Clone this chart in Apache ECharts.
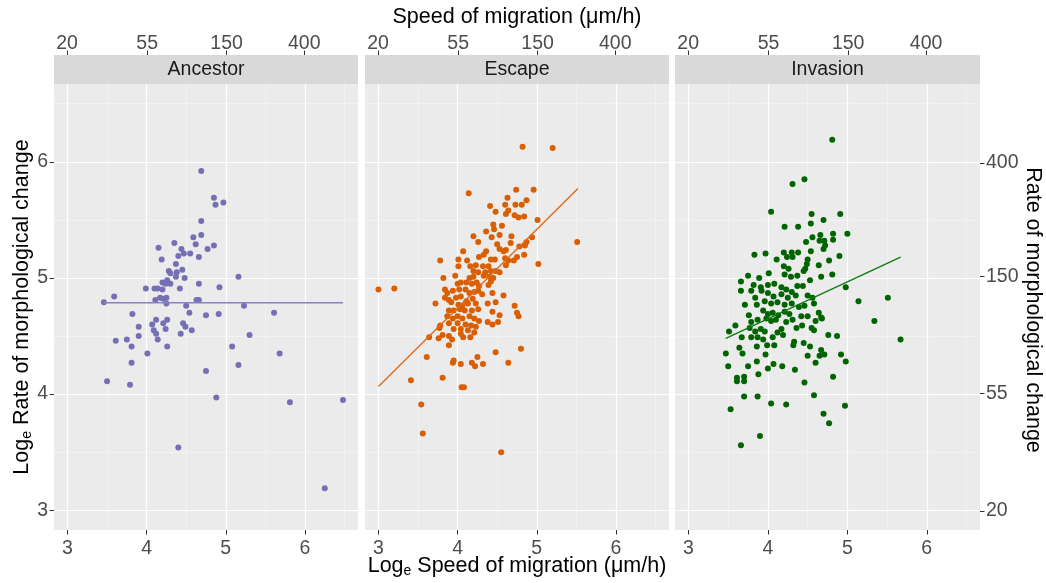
<!DOCTYPE html>
<html>
<head>
<meta charset="utf-8">
<script src="https://cdn.jsdelivr.net/npm/echarts@6/dist/echarts.min.js"></script>
<style>html,body{margin:0;padding:0;background:#fff}#c{width:1046px;height:583px}</style>
</head>
<body>
<div id="c"></div>
<script>
// ---- data ----
const panels = ['Ancestor', 'Escape', 'Invasion'];
const bottomTicks = [3, 4, 5, 6];
const leftTicks = [3, 4, 5, 6];
const minorTicks = [3.5, 4.5, 5.5, 6.5];
const topTickLabels = [20, 55, 150, 400];
const rightTickLabels = [20, 55, 150, 400];

const ancestorPoints = [
[4.69,5.92],[4.85,5.69],[4.87,5.63],[4.97,5.65],[4.69,5.49],[4.69,5.37],[4.59,5.35],[4.62,5.29],[4.85,5.28],[4.77,5.25],
[4.35,5.30],[4.44,5.25],[4.15,5.26],[4.40,5.19],[4.47,5.21],[4.55,5.21],[4.66,5.18],[4.19,5.16],[4.37,5.12],[4.28,5.06],
[4.30,5.04],[4.38,5.05],[4.45,5.07],[4.37,5.01],[4.48,5.00],[5.16,5.01],[4.20,4.96],[4.26,4.98],[4.30,4.95],[4.24,4.95],
[4.66,4.95],[3.99,4.91],[4.10,4.91],[4.14,4.91],[4.20,4.90],[4.42,4.91],[4.92,4.92],[3.59,4.84],[3.46,4.79],[4.11,4.81],
[4.17,4.83],[4.21,4.82],[4.25,4.83],[4.25,4.78],[4.50,4.76],[4.63,4.81],[4.66,4.81],[5.23,4.76],[3.82,4.69],[4.54,4.70],
[4.75,4.68],[4.91,4.69],[5.61,4.70],[4.12,4.64],[4.26,4.64],[4.07,4.60],[4.21,4.61],[4.46,4.61],[3.90,4.58],[4.09,4.55],
[4.12,4.52],[4.24,4.56],[4.49,4.58],[4.57,4.55],[4.43,4.52],[3.90,4.50],[3.61,4.46],[3.75,4.47],[4.14,4.47],[3.81,4.41],
[4.26,4.41],[5.30,4.51],[5.08,4.41],[4.01,4.35],[5.68,4.35],[3.81,4.27],[5.16,4.25],[4.75,4.20],[3.50,4.11],[3.79,4.08],
[4.88,3.97],[5.81,3.93],[6.48,3.95],[4.40,3.54],[6.25,3.19]
];
const escapePoints = [
[4.82,6.13],[5.20,6.12],[4.14,5.73],[4.74,5.76],[4.96,5.76],[4.63,5.69],[4.60,5.63],[4.73,5.63],[4.81,5.63],[4.87,5.67],
[4.41,5.62],[4.48,5.57],[4.61,5.55],[4.64,5.58],[4.72,5.54],[4.77,5.52],[4.84,5.53],[5.01,5.50],[5.51,5.31],[4.45,5.46],
[4.56,5.45],[4.46,5.42],[4.36,5.40],[4.53,5.37],[4.20,5.36],[4.68,5.36],[4.43,5.35],[4.26,5.31],[4.67,5.30],[4.50,5.29],
[4.53,5.25],[4.58,5.23],[4.61,5.24],[4.36,5.23],[4.07,5.23],[4.87,5.31],[4.94,5.35],[4.78,5.27],[4.85,5.28],[4.84,5.20],
[4.33,5.20],[4.27,5.18],[3.78,5.15],[4.01,5.16],[4.42,5.16],[4.47,5.16],[4.60,5.17],[4.64,5.15],[4.71,5.15],[4.75,5.18],
[5.02,5.12],[4.12,5.15],[4.16,5.10],[4.01,5.10],[4.23,5.11],[4.32,5.10],[4.39,5.10],[4.61,5.11],[3.97,5.02],[3.82,5.00],
[4.20,5.06],[4.26,5.05],[4.35,5.05],[4.42,5.06],[4.48,5.06],[4.53,5.05],[4.15,5.00],[4.20,5.01],[4.33,5.02],[4.40,5.01],
[4.45,5.00],[3.00,4.90],[3.20,4.91],[4.00,4.95],[4.04,4.96],[4.11,4.96],[4.18,4.95],[4.24,4.96],[4.27,4.93],[4.39,4.94],
[4.42,4.97],[3.84,4.90],[3.87,4.87],[3.94,4.89],[4.02,4.90],[4.10,4.90],[4.15,4.87],[4.21,4.88],[4.26,4.89],[4.31,4.86],
[4.44,4.87],[4.58,4.85],[3.84,4.83],[3.89,4.81],[3.98,4.83],[4.04,4.84],[4.11,4.80],[4.19,4.82],[3.72,4.78],[3.92,4.79],
[4.01,4.77],[4.06,4.76],[4.13,4.78],[4.23,4.78],[4.38,4.78],[4.48,4.79],[4.72,4.76],[3.89,4.72],[3.95,4.72],[4.03,4.73],
[4.09,4.72],[4.18,4.72],[4.26,4.73],[4.44,4.71],[4.53,4.68],[4.75,4.70],[4.77,4.67],[3.87,4.67],[3.94,4.65],[4.00,4.67],
[4.06,4.65],[4.15,4.67],[4.21,4.65],[4.27,4.63],[4.38,4.62],[4.44,4.60],[4.51,4.62],[3.78,4.59],[3.89,4.61],[4.00,4.61],
[4.10,4.60],[4.17,4.59],[4.23,4.58],[3.77,4.57],[3.95,4.56],[4.04,4.56],[4.13,4.55],[4.21,4.53],[4.04,4.52],[4.07,4.49],
[3.81,4.51],[3.89,4.50],[3.64,4.49],[3.76,4.48],[3.93,4.47],[4.16,4.49],[3.89,4.42],[4.80,4.39],[3.61,4.32],[4.48,4.36],
[3.95,4.29],[3.94,4.27],[4.04,4.26],[4.18,4.27],[4.25,4.32],[4.22,4.24],[4.32,4.26],[4.64,4.27],[3.41,4.12],[3.81,4.14],
[4.05,4.06],[4.08,4.06],[3.54,3.91],[3.56,3.66],[4.55,3.50]
];
const invasionPoints = [
[4.81,6.19],[4.46,5.85],[4.31,5.81],[4.04,5.57],[4.55,5.55],[4.70,5.50],[4.91,5.55],[4.21,5.44],[4.38,5.44],[4.54,5.47],
[5.00,5.38],[4.56,5.35],[4.66,5.37],[4.82,5.38],[4.71,5.32],[4.48,5.31],[4.82,5.33],[4.65,5.32],[4.72,5.28],[3.83,5.20],
[3.97,5.21],[4.20,5.22],[4.30,5.22],[4.38,5.22],[4.54,5.23],[4.70,5.25],[4.90,5.19],[4.11,5.16],[4.24,5.18],[4.31,5.18],
[4.50,5.16],[4.77,5.15],[4.49,5.12],[4.64,5.11],[4.20,5.10],[4.26,5.08],[4.47,5.08],[4.01,5.04],[3.75,5.02],[3.89,5.00],
[4.21,5.03],[4.29,5.01],[4.37,5.02],[4.45,5.06],[4.53,4.98],[4.67,5.01],[4.81,5.03],[4.98,4.92],[3.66,4.97],[3.82,4.94],
[3.91,4.92],[4.00,4.94],[4.08,4.95],[4.17,4.92],[4.23,4.90],[4.30,4.88],[4.37,4.93],[4.44,4.93],[3.66,4.89],[3.79,4.89],
[3.92,4.89],[4.00,4.87],[4.07,4.84],[4.17,4.86],[4.25,4.83],[4.35,4.85],[4.50,4.85],[4.56,4.83],[4.58,4.78],[5.14,4.80],
[5.51,4.83],[3.71,4.77],[3.84,4.83],[3.96,4.80],[4.04,4.78],[4.12,4.79],[4.21,4.77],[4.30,4.78],[4.39,4.75],[4.46,4.76],
[3.86,4.77],[3.94,4.72],[4.00,4.69],[4.06,4.70],[4.13,4.68],[4.21,4.71],[4.27,4.69],[4.42,4.67],[4.50,4.67],[4.64,4.70],
[4.67,4.66],[3.76,4.68],[3.79,4.62],[3.87,4.64],[3.98,4.65],[4.04,4.63],[4.10,4.64],[4.23,4.62],[4.31,4.64],[4.36,4.57],
[4.43,4.59],[4.60,4.63],[4.68,4.65],[5.34,4.63],[3.51,4.54],[3.59,4.59],[3.77,4.57],[3.84,4.54],[3.91,4.56],[3.96,4.54],
[4.17,4.56],[4.55,4.57],[4.58,4.55],[3.67,4.49],[3.79,4.49],[3.87,4.49],[3.94,4.47],[4.06,4.49],[4.12,4.53],[4.19,4.51],
[4.76,4.51],[4.87,4.50],[5.67,4.47],[3.47,4.35],[3.64,4.40],[3.68,4.35],[3.86,4.41],[3.99,4.42],[4.08,4.42],[4.33,4.45],
[4.32,4.42],[4.45,4.44],[4.53,4.41],[4.50,4.33],[4.67,4.38],[4.65,4.33],[4.71,4.34],[4.60,4.27],[4.92,4.34],[4.98,4.28],
[3.50,4.24],[3.75,4.24],[3.86,4.28],[3.97,4.34],[4.00,4.22],[4.07,4.26],[4.18,4.24],[4.34,4.21],[3.88,4.17],[3.61,4.14],
[3.70,4.15],[3.61,4.11],[3.70,4.11],[4.82,4.15],[4.46,4.10],[3.70,3.98],[3.87,3.98],[4.58,3.99],[4.04,3.92],[4.23,3.91],
[4.97,3.90],[3.53,3.87],[4.70,3.83],[4.77,3.75],[3.90,3.64],[3.66,3.56]
];
// fitted lines (start and end points)
const ancestorFit = [[3.46, 4.786], [6.48, 4.786]];
const escapeFit = [[3.00, 4.065], [5.52, 5.77]];
const invasionFit = [[3.47, 4.48], [5.67, 5.18]];

const axisMin = 2.83, axisMax = 6.67;
const colors = ['#7570b3', '#d95f02', '#006400'];
const lineColors = ['#8a80c6', '#e06a1a', '#137a13'];

// ---- chart ----
const FONT = 'Liberation Sans, Arial, sans-serif';
const chart = echarts.init(document.getElementById('c'), null, {renderer: 'canvas'});
const gridLefts = [54, 365, 675];
const gridW = [304, 304, 305];
const gridTop = 84, gridH = 446;
const pointSets = [ancestorPoints, escapePoints, invasionPoints];
const fits = [ancestorFit, escapeFit, invasionFit];
const logTop = topTickLabels.map(v => Math.log(v));
const logRight = rightTickLabels.map(v => Math.log(v));

const grids = [], xAxes = [], yAxes = [], series = [], graphics = [];
const labelStyle = {color: '#4d4d4d', fontSize: 19.5, fontFamily: FONT};
const tickStyle = {show: true, length: 4.5, lineStyle: {color: '#333333', width: 1}};

for (let i = 0; i < 3; i++) {
  grids.push({left: gridLefts[i], top: gridTop, width: gridW[i], height: gridH,
    show: true, backgroundColor: '#ebebeb', borderWidth: 0});
}
for (let i = 0; i < 3; i++) {
  xAxes.push({type: 'value', gridIndex: i, min: axisMin, max: axisMax, position: 'bottom',
    axisLine: {show: false}, splitLine: {show: false},
    axisTick: Object.assign({customValues: bottomTicks}, tickStyle),
    axisLabel: Object.assign({customValues: bottomTicks, margin: 9, formatter: v => String(v)}, labelStyle)});
}
for (let i = 0; i < 3; i++) {
  xAxes.push({type: 'value', gridIndex: i, min: axisMin, max: axisMax, position: 'top', offset: 29,
    axisLine: {show: false}, splitLine: {show: false},
    axisTick: Object.assign({customValues: logTop}, tickStyle),
    axisLabel: Object.assign({customValues: logTop, margin: 1, formatter: v => String(Math.round(Math.exp(v)))}, labelStyle)});
}
for (let i = 0; i < 3; i++) {
  yAxes.push({type: 'value', gridIndex: i, min: axisMin, max: axisMax, position: 'left',
    axisLine: {show: false}, splitLine: {show: false},
    axisTick: Object.assign({customValues: leftTicks}, tickStyle, {show: i === 0}),
    axisLabel: Object.assign({customValues: leftTicks, margin: 6, show: i === 0, formatter: v => String(v)}, labelStyle)});
}
yAxes.push({type: 'value', gridIndex: 2, min: axisMin, max: axisMax, position: 'right',
  axisLine: {show: false}, splitLine: {show: false},
  axisTick: Object.assign({customValues: logRight}, tickStyle),
  axisLabel: Object.assign({customValues: logRight, margin: 6, formatter: v => String(Math.round(Math.exp(v)))}, labelStyle)});

const major = {color: '#ffffff', width: 1.2, type: 'solid'};
const minor = {color: '#f7f7f7', width: 0.6, type: 'solid'};
for (let i = 0; i < 3; i++) {
  const ml = [];
  minorTicks.forEach(v => { ml.push({xAxis: v, lineStyle: minor}); ml.push({yAxis: v, lineStyle: minor}); });
  bottomTicks.forEach(v => ml.push({xAxis: v, lineStyle: major}));
  leftTicks.forEach(v => ml.push({yAxis: v, lineStyle: major}));
  series.push({type: 'line', xAxisIndex: i, yAxisIndex: i, data: [], z: 1, silent: true,
    markLine: {silent: true, z: 1, symbol: 'none', label: {show: false}, animation: false, data: ml}});
  series.push({type: 'scatter', xAxisIndex: i, yAxisIndex: i, z: 3, data: pointSets[i],
    symbolSize: 6, itemStyle: {color: colors[i], opacity: 1}, animation: false});
  series.push({type: 'line', xAxisIndex: i, yAxisIndex: i, z: 4, data: fits[i], showSymbol: false,
    symbol: 'none', lineStyle: {color: lineColors[i], width: 1.4}, animation: false});
  // strip
  graphics.push({type: 'rect', left: gridLefts[i], top: 55, shape: {width: gridW[i], height: 29},
    style: {fill: '#d9d9d9'}});
  graphics.push({type: 'text', x: gridLefts[i] + gridW[i] / 2, y: 70,
    style: {text: panels[i], fill: '#1a1a1a', font: '19.5px ' + FONT, textAlign: 'center', textVerticalAlign: 'middle'}});
}
// axis titles
graphics.push({type: 'text', x: 517, y: 17, style: {text: 'Speed of migration (\u03bcm/h)', fill: '#000',
  font: '21.5px ' + FONT, textAlign: 'center', textVerticalAlign: 'middle'}});
graphics.push({type: 'text', x: 517, y: 566, style: {
  text: '{a|Log}{s|e}{a| Speed of migration (\u03bcm/h)}', textAlign: 'center', textVerticalAlign: 'middle',
  rich: {a: {fontSize: 21.5, fontFamily: FONT, fill: '#000', color: '#000'},
         s: {fontSize: 14, fontFamily: FONT, fill: '#000', color: '#000', padding: [11, 0, 0, 0]}}}});
graphics.push({type: 'text', x: 22, y: 307, rotation: Math.PI / 2, style: {
  text: '{a|Log}{s|e}{a| Rate of morphological change}', textAlign: 'center', textVerticalAlign: 'middle',
  rich: {a: {fontSize: 21.5, fontFamily: FONT, fill: '#000', color: '#000'},
         s: {fontSize: 14, fontFamily: FONT, fill: '#000', color: '#000', padding: [11, 0, 0, 0]}}}});
graphics.push({type: 'text', x: 1033, y: 310, rotation: -Math.PI / 2, style: {text: 'Rate of morphological change',
  fill: '#000', font: '21.5px ' + FONT, textAlign: 'center', textVerticalAlign: 'middle'}});

chart.setOption({animation: false, backgroundColor: '#ffffff', grid: grids, xAxis: xAxes, yAxis: yAxes,
  series: series, graphic: {elements: graphics}});
</script>
</body>
</html>
